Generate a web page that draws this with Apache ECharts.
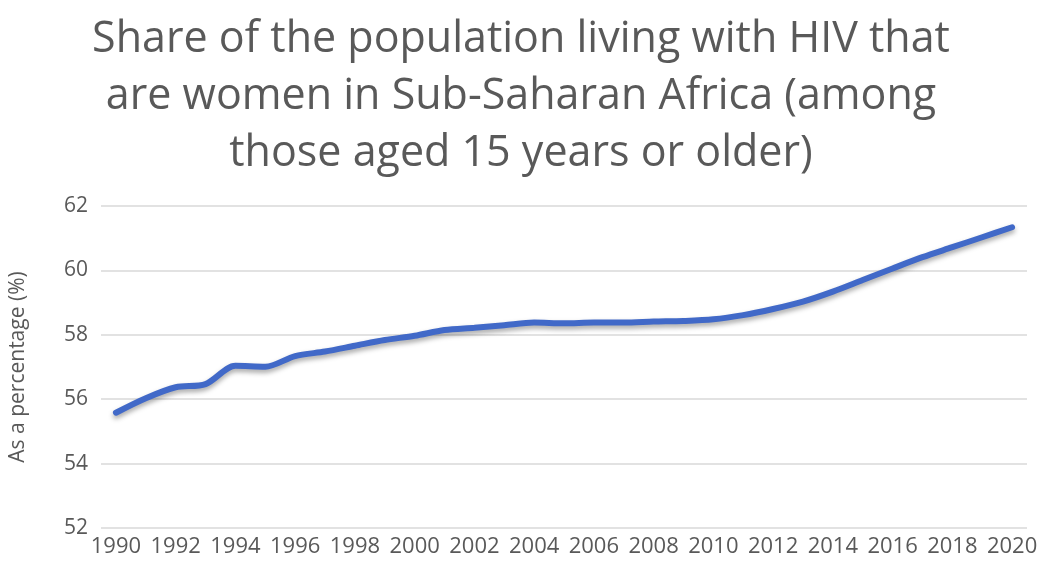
<!DOCTYPE html>
<html lang="en">
<head>
    <meta charset="UTF-8">
    <title>HIV women share</title>
    <style>
        html, body { margin: 0; padding: 0; background: #fff; }
        #lineChart { width: 1042px; height: 570px; }
    </style>
</head>
<body>
    <div id="lineChart"></div>
    <script src="https://cdn.jsdelivr.net/npm/echarts@6/dist/echarts.min.js"></script>
    <script>
        // years on the x axis
        var years = [];
        for (var y = 1990; y <= 2020; y++) years.push(String(y));
        // share of adults living with HIV who are women (%)
        var womenShare = [55.58, 56.03, 56.37, 56.47, 57.04, 57.01, 57.34, 57.48, 57.66, 57.84,
            57.97, 58.15, 58.22, 58.30, 58.38, 58.36, 58.38, 58.38, 58.41, 58.43,
            58.48, 58.61, 58.80, 59.03, 59.34, 59.70, 60.06, 60.41, 60.72, 61.03, 61.34];

        var chart = echarts.init(document.getElementById('lineChart'));
        var font = '"Open Sans", "Noto Sans", sans-serif';
        var option = {
            title: {
                text: 'Share of the population living with HIV that\nare women in Sub-Saharan Africa (among\nthose aged 15 years or older)',
                left: 'center',
                top: 6,
                textStyle: {
                    fontFamily: font,
                    fontSize: 43,
                    fontWeight: 'normal',
                    color: '#595959',
                    lineHeight: 57
                }
            },
            grid: { left: 101, right: 15, top: 206, bottom: 42 },
            xAxis: {
                type: 'category',
                data: years,
                boundaryGap: true,
                axisLine: { show: false },
                axisTick: { show: false },
                axisLabel: {
                    interval: 1,
                    color: '#595959',
                    fontSize: 22,
                    fontFamily: font,
                    margin: 8
                }
            },
            yAxis: {
                type: 'value',
                min: 52,
                max: 62,
                interval: 2,
                name: 'As a percentage (%)',
                nameLocation: 'middle',
                nameGap: 72,
                nameTextStyle: { color: '#595959', fontSize: 21, fontFamily: font },
                axisLine: { show: false },
                axisTick: { show: false },
                axisLabel: { color: '#595959', fontSize: 21, fontFamily: font, margin: 13 },
                splitLine: { lineStyle: { color: '#d9d9d9', width: 1.5 } }
            },
            series: [{
                type: 'line',
                data: womenShare,
                smooth: 0.3,
                showSymbol: false,
                lineStyle: {
                    color: '#4169c8',
                    width: 6,
                    cap: 'round',
                    shadowColor: 'rgba(0,0,0,0.35)',
                    shadowBlur: 5,
                    shadowOffsetY: 3
                }
            }]
        };
        chart.setOption(option);
    </script>
</body>
</html>
